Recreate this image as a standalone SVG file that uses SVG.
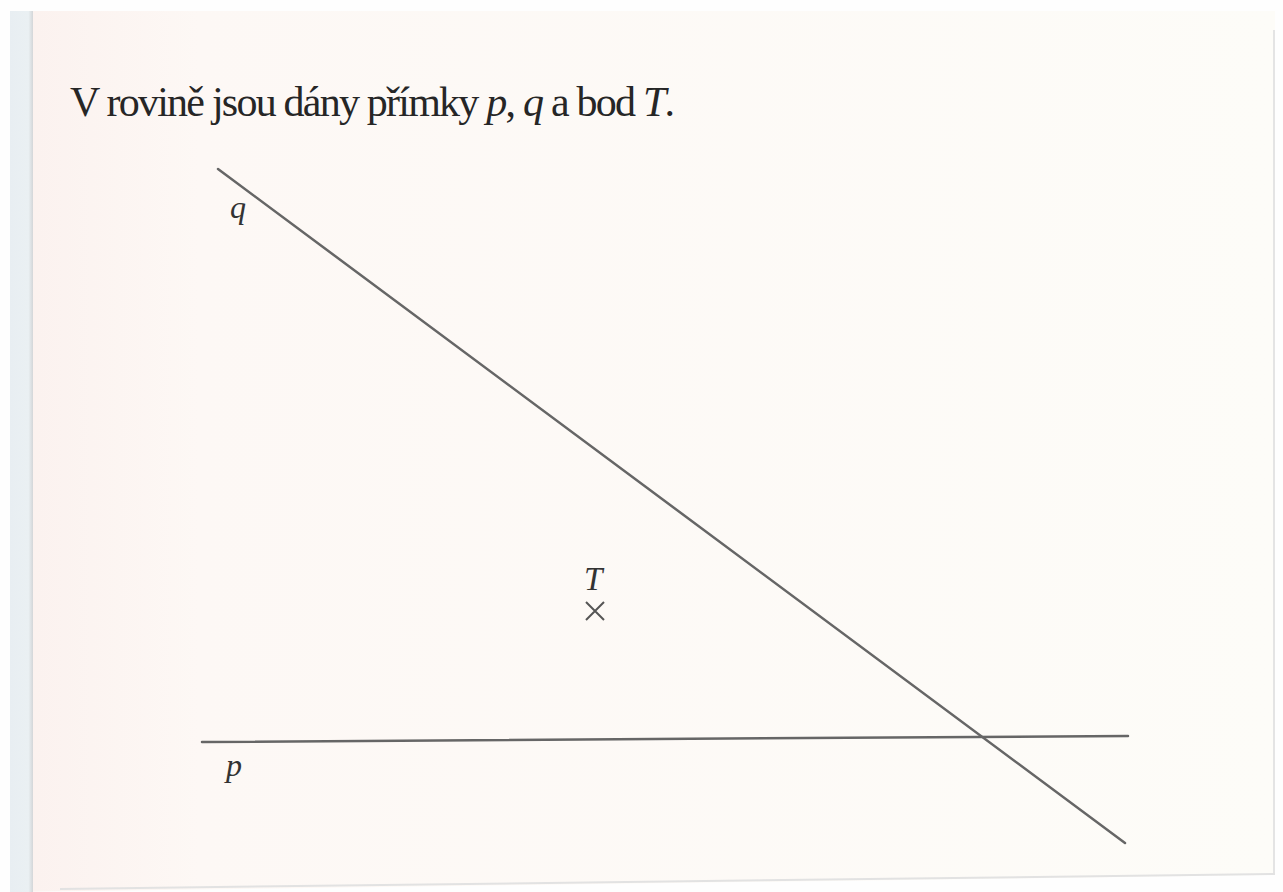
<svg xmlns="http://www.w3.org/2000/svg" width="1283" height="892" viewBox="0 0 1283 892">
  <defs>
    <linearGradient id="pageGrad" x1="0" y1="0" x2="1" y2="0">
      <stop offset="0" stop-color="#fbf1ee"/>
      <stop offset="0.15" stop-color="#fdf8f5"/>
      <stop offset="1" stop-color="#fdfcf8"/>
    </linearGradient>
    <linearGradient id="stripGrad" x1="0" y1="0" x2="1" y2="0">
      <stop offset="0" stop-color="#e8eef2"/>
      <stop offset="0.8" stop-color="#eaf0f3"/>
      <stop offset="1" stop-color="#d3d6d8"/>
    </linearGradient>
  </defs>
  <style>
    .ln { stroke: #666666; stroke-width: 2.5; fill: none; stroke-linecap: round; }
    .lbl { font-family: "Liberation Serif", "DejaVu Serif", serif; font-style: italic; fill: #333333; }
    .title { font-family: "Liberation Serif", "DejaVu Serif", serif; fill: #262626; font-size: 42px; }
  </style>

  <rect x="0" y="0" width="1283" height="892" fill="#fefefe"/>
  <g id="page">
    <polygon points="10,11 1275,11 1275,875 10,892" fill="url(#pageGrad)"/>
    <rect x="10" y="11" width="23" height="881" fill="url(#stripGrad)"/>
    <line x1="1274" y1="30" x2="1274" y2="875" stroke="#e4e4e4" stroke-width="2"/>
    <line x1="60" y1="889" x2="1275" y2="874" stroke="#e2e2e2" stroke-width="2"/>
  </g>

  <g id="title">
    <text class="title" x="70" y="116" textLength="605" lengthAdjust="spacing">V rovině jsou dány přímky <tspan font-style="italic">p</tspan>, <tspan font-style="italic">q</tspan> a bod <tspan font-style="italic">T</tspan>.</text>
  </g>

  <g id="connectors">
    <line id="line-q" class="ln" x1="218" y1="169" x2="1125" y2="843"/>
    <line id="line-p" class="ln" x1="202" y1="742" x2="1128" y2="736"/>
  </g>

  <g id="label-q">
    <text class="lbl" x="230" y="218" font-size="32">q</text>
  </g>
  <g id="label-p">
    <text class="lbl" x="226" y="776" font-size="32">p</text>
  </g>
  <g id="point-T">
    <text class="lbl" x="584" y="590" font-size="33">T</text>
    <path d="M586,602 L604,620 M604,602 L586,620" stroke="#555555" stroke-width="2" fill="none"/>
  </g>
</svg>
